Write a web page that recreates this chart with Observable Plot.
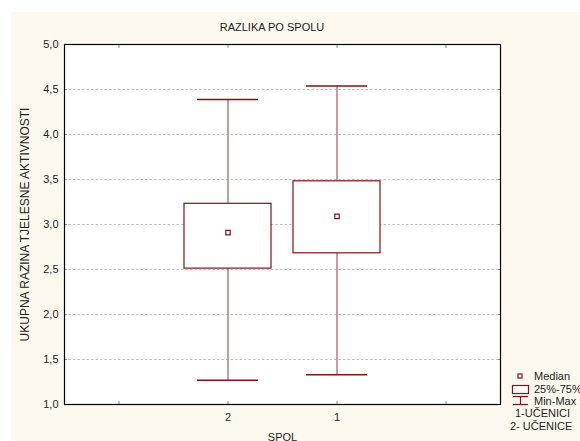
<!DOCTYPE html>
<html><head><meta charset="utf-8">
<script src="https://cdn.jsdelivr.net/npm/d3@7"></script>
<script src="https://cdn.jsdelivr.net/npm/@observablehq/plot@0.6"></script>
<style>
body{margin:0;background:#fff;}
#wrap{position:relative;width:580px;height:441px;overflow:hidden;font-family:"Liberation Sans",Arial,sans-serif;color:#222;}
#panel{position:absolute;left:11px;top:12px;right:0;bottom:0;background:#fef9ef;}
#chart{position:absolute;left:0;top:0;}
#title{position:absolute;left:14px;width:516px;top:21px;text-align:center;font-size:11px;line-height:12px;}
.leg{position:absolute;font-size:11px;line-height:12px;white-space:nowrap;}
#icons{position:absolute;left:505px;top:368px;}
</style></head><body>
<div id="wrap"><div id="panel"></div><div id="chart"></div><div id="title">RAZLIKA PO SPOLU</div>
<svg id="icons" width="30" height="42"></svg>
<div class="leg" style="left:534px;top:370px">Median</div>
<div class="leg" style="left:534px;top:382.5px">25%-75%</div>
<div class="leg" style="left:534px;top:394.5px">Min-Max</div>
<div class="leg" style="left:515px;top:407px">1-UČENICI</div>
<div class="leg" style="left:510px;top:420px">2- UČENICE</div>
</div>
<script>
const groups = ["2", "1"];
const mins = [1.27, 1.33];
const q1s = [2.51, 2.68];
const medians = [2.91, 3.09];
const q3s = [3.23, 3.48];
const maxs = [4.39, 4.54];
const xDomain = ["", "2", "1", " "];
const yTicks = [1, 1.5, 2, 2.5, 3, 3.5, 4, 4.5, 5];
const gridTicks = [1.5, 2, 2.5, 3, 3.5, 4, 4.5];
const yLabel = "UKUPNA RAZINA TJELESNE AKTIVNOSTI";

const data = groups.map((g, i) => ({group: g, min: mins[i], q1: q1s[i], median: medians[i], q3: q3s[i], max: maxs[i]}));

const dark = "#861212";
const whisk = "#c48080";
const fmt = d => d.toFixed(1).replace(".", ",");
const none = () => "";

const chart = Plot.plot({
  width: 580, height: 441,
  marginLeft: 64, marginRight: 80, marginTop: 44, marginBottom: 37,
  style: {background: "transparent", fontFamily: "'Liberation Sans', Arial, sans-serif", fontSize: "11px", color: "#222"},
  x: {type: "band", domain: xDomain, padding: 0},
  y: {domain: [1, 5]},
  marks: [
    Plot.frame({fill: "white", stroke: "none"}),
    Plot.gridY(gridTicks, {stroke: "#bdbdbd", strokeOpacity: 1, strokeDasharray: "2.5,2"}),
    Plot.ruleX(data, {x: "group", y1: "min", y2: "q1", stroke: whisk, strokeWidth: 1.6}),
    Plot.ruleX(data, {x: "group", y1: "q3", y2: "max", stroke: whisk, strokeWidth: 1.6}),
    Plot.tickY(data, {x: "group", y: "min", stroke: dark, strokeWidth: 1.5, insetLeft: 24, insetRight: 24}),
    Plot.tickY(data, {x: "group", y: "max", stroke: dark, strokeWidth: 1.5, insetLeft: 24, insetRight: 24}),
    Plot.barY(data, {x: "group", y1: "q1", y2: "q3", fill: "white", stroke: dark, strokeWidth: 1.2, insetLeft: 11, insetRight: 11}),
    Plot.dot(data, {x: "group", y: "median", symbol: "square", r: 2.5, stroke: dark, strokeWidth: 1.2, fill: "white"}),
    Plot.axisY({ticks: yTicks, tickFormat: fmt, tickSize: 0, tickPadding: 6, label: null, fill: "#222"}),
    Plot.text([yLabel], {frameAnchor: "left", textAnchor: "middle", rotate: -90, dx: -39, fontSize: 12, fill: "#222"}),
    Plot.axisY({ticks: yTicks, tickSize: -3, stroke: "#888", tickFormat: none, label: null}),
    Plot.axisY({anchor: "right", ticks: yTicks, tickSize: -3, stroke: "#888", tickFormat: none, label: null}),
    Plot.axisX({ticks: xDomain, tickSize: -3, stroke: "#888", tickPadding: 12, tickFormat: d => d.trim(), label: "SPOL", labelAnchor: "center", labelArrow: "none", labelOffset: 36, fill: "#222"}),
    Plot.axisX({anchor: "top", ticks: xDomain, tickSize: -3, stroke: "#888", tickFormat: none, label: null}),
    Plot.frame({stroke: "#000", strokeWidth: 1.2})
  ]
});
document.getElementById("chart").appendChild(chart);

// legend icons
const ns = "http://www.w3.org/2000/svg";
const icons = document.getElementById("icons");
function add(tag, attrs) { const e = document.createElementNS(ns, tag); for (const k in attrs) e.setAttribute(k, attrs[k]); icons.appendChild(e); }
add("rect", {x: 13, y: 6, width: 4, height: 4, fill: "white", stroke: dark, "stroke-width": 1.2});
add("rect", {x: 7.5, y: 17.5, width: 16, height: 8, fill: "white", stroke: dark, "stroke-width": 1.2});
add("line", {x1: 8, x2: 23, y1: 28.5, y2: 28.5, stroke: dark, "stroke-width": 1.2});
add("line", {x1: 8, x2: 23, y1: 36.5, y2: 36.5, stroke: dark, "stroke-width": 1.2});
add("line", {x1: 15.5, x2: 15.5, y1: 28.5, y2: 36.5, stroke: dark, "stroke-width": 1.2});
</script>
</body></html>
